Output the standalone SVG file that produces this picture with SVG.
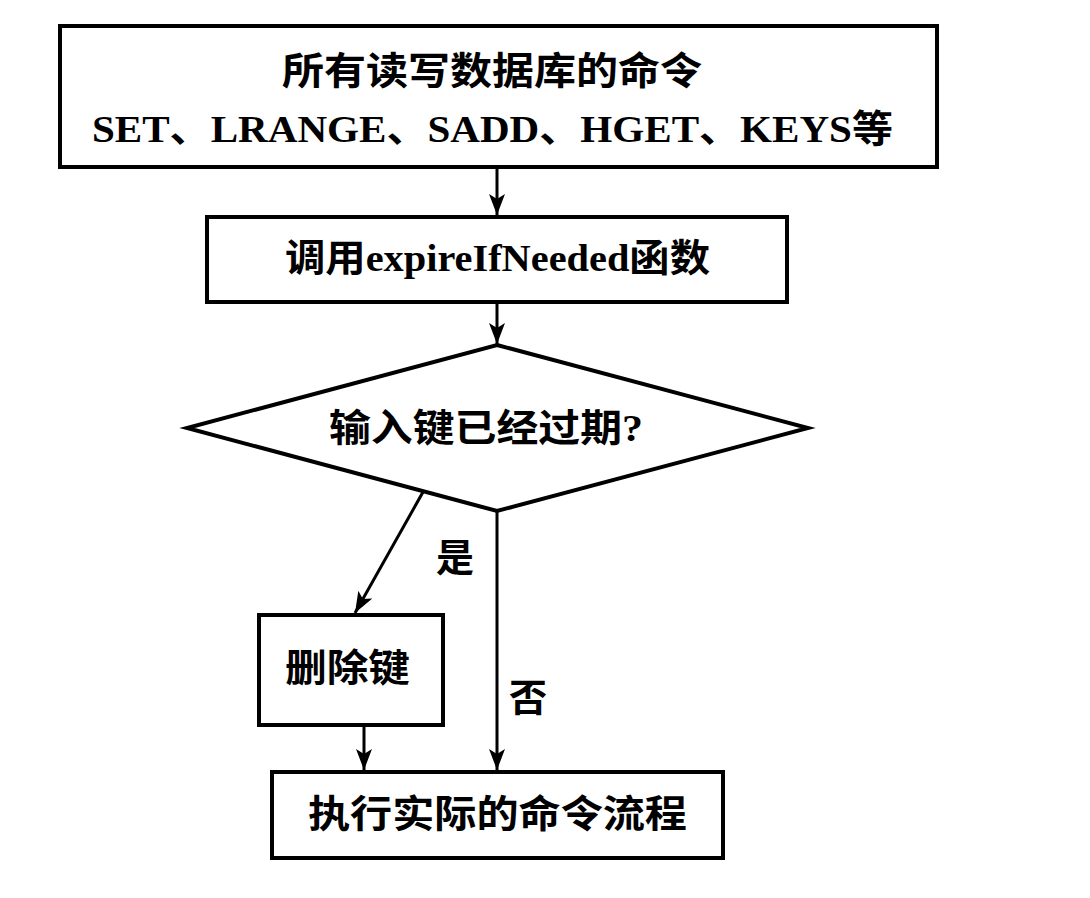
<svg xmlns="http://www.w3.org/2000/svg" width="1090" height="898" viewBox="0 0 1090 898">
<defs>
<style>
.box{fill:#fff;stroke:#000;stroke-width:4}
.t{font-family:"Liberation Serif","Noto Sans CJK SC",serif;font-weight:bold;fill:#000;font-size:38px}
.c{dominant-baseline:central;text-anchor:start}
.conn{stroke:#000;stroke-width:3;fill:none;marker-end:url(#ah)}
</style>
<marker id="ah" markerUnits="userSpaceOnUse" markerWidth="22" markerHeight="18" refX="21" refY="8" orient="auto">
<path d="M0,0 L21,8 L0,16 L5,8 z" fill="#000"/>
</marker>
</defs>
<rect width="1090" height="898" fill="#fff"/>
<g id="connectors">
<line class="conn" x1="497" y1="167" x2="497" y2="215"/>
<line class="conn" x1="497" y1="302" x2="497" y2="344"/>
<line class="conn" x1="497" y1="511" x2="497" y2="770"/>
<line class="conn" x1="423" y1="492" x2="355" y2="613"/>
<line class="conn" x1="364" y1="725" x2="364" y2="770"/>
</g>
<g id="n_cmds">
<rect class="box" x="60" y="26" width="877" height="141"/>
<text class="t c" x="282" y="71" font-size="40" textLength="420" lengthAdjust="spacingAndGlyphs">所有读写数据库的命令</text>
<text class="t" x="92" y="142" textLength="801" lengthAdjust="spacingAndGlyphs">SET、LRANGE、SADD、HGET、KEYS等</text>
</g>
<g id="n_call">
<rect class="box" x="207" y="217" width="580" height="85"/>
<text class="t c" x="285" y="258" textLength="425" lengthAdjust="spacingAndGlyphs">调用expireIfNeeded函数</text>
</g>
<g id="n_check">
<polygon class="box" points="497,345 808,428 497,511 187,428"/>
<text class="t c" x="329" y="428" textLength="314" lengthAdjust="spacingAndGlyphs">输入键已经过期?</text>
</g>
<g id="labels">
<text class="t c" x="436" y="558" font-size="36">是</text>
<text class="t c" x="509" y="698" font-size="36">否</text>
</g>
<g id="n_delete">
<rect class="box" x="259" y="615" width="184" height="110"/>
<text class="t c" x="285" y="668" textLength="125" lengthAdjust="spacingAndGlyphs">删除键</text>
</g>
<g id="n_exec">
<rect class="box" x="272" y="772" width="451" height="86"/>
<text class="t c" x="308" y="814" textLength="379" lengthAdjust="spacingAndGlyphs">执行实际的命令流程</text>
</g>
</svg>
